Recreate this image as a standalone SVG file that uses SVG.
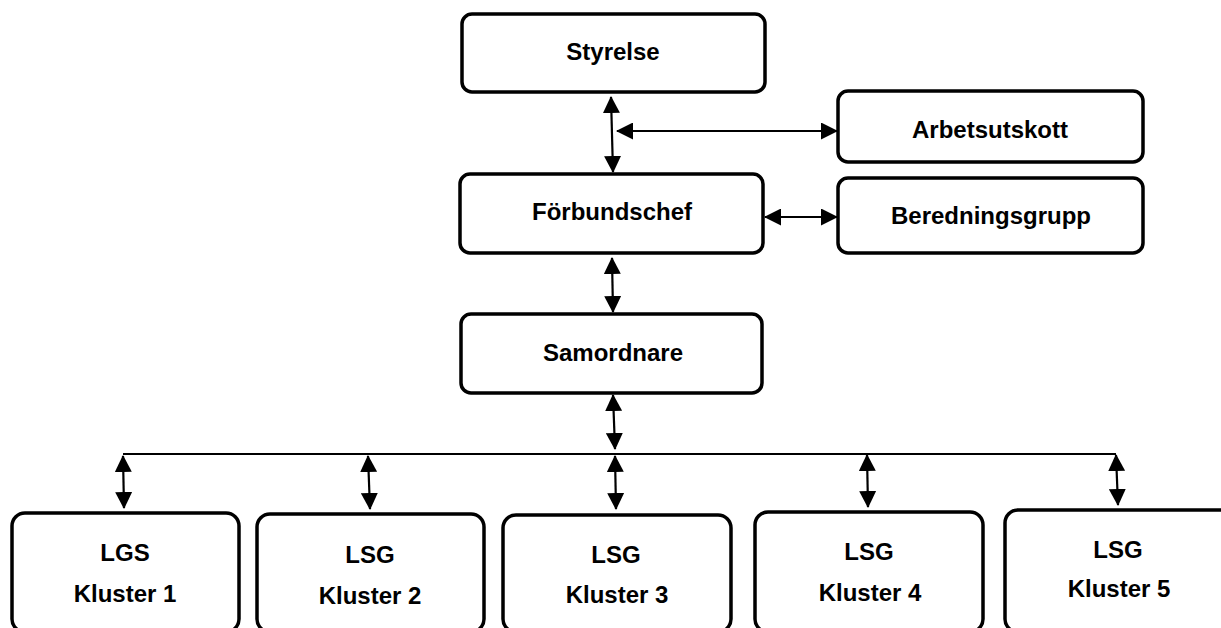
<svg xmlns="http://www.w3.org/2000/svg" width="1221" height="628" viewBox="0 0 1221 628">
<style>
.box{fill:#fff;stroke:#000;stroke-width:3.5}
.lbl{font-family:"Liberation Sans",Arial,sans-serif;font-weight:bold;font-size:24px;fill:#000;text-anchor:middle}
.arr{stroke:#000;stroke-width:2.2;fill:none;marker-start:url(#ah);marker-end:url(#ah)}
.bus{stroke:#000;stroke-width:2;fill:none}
</style>
<defs>
<marker id="ah" markerUnits="userSpaceOnUse" viewBox="0 0 17 17" markerWidth="17" markerHeight="17" refX="16" refY="8.5" orient="auto-start-reverse">
<path d="M0,0 L17,8.5 L0,17 z" fill="#000"/>
</marker>
</defs>
<rect width="1221" height="628" fill="#fff"/>
<g id="connectors">
<line class="arr" x1="611" y1="97" x2="613" y2="172"/>
<line class="arr" x1="617" y1="131" x2="837" y2="131"/>
<line class="arr" x1="765" y1="217" x2="837" y2="217"/>
<line class="arr" x1="612" y1="258" x2="613" y2="312"/>
<line class="arr" x1="613" y1="395" x2="615" y2="449"/>
<line class="bus" x1="123" y1="454" x2="1116" y2="454"/>
<line class="arr" x1="123" y1="456" x2="124" y2="508"/>
<line class="arr" x1="368" y1="456" x2="370" y2="509"/>
<line class="arr" x1="615" y1="456" x2="616" y2="509"/>
<line class="arr" x1="867" y1="455" x2="868" y2="507"/>
<line class="arr" x1="1116" y1="455" x2="1118" y2="505"/>
</g>
<g id="styrelse"><rect class="box" x="462" y="14" width="303" height="78" rx="10"/><text class="lbl" x="613" y="60">Styrelse</text></g>
<g id="arbetsutskott"><rect class="box" x="838" y="91" width="305" height="71" rx="10"/><text class="lbl" x="990" y="138">Arbetsutskott</text></g>
<g id="forbundschef"><rect class="box" x="460" y="174" width="303" height="79" rx="10"/><text class="lbl" x="612" y="220">Förbundschef</text></g>
<g id="beredningsgrupp"><rect class="box" x="838" y="178" width="305" height="75" rx="10"/><text class="lbl" x="991" y="224">Beredningsgrupp</text></g>
<g id="samordnare"><rect class="box" x="461" y="314" width="301" height="79" rx="10"/><text class="lbl" x="613" y="361">Samordnare</text></g>
<g id="kluster1"><rect class="box" x="12" y="513" width="227" height="119" rx="13"/><text class="lbl" x="125" y="561">LGS</text><text class="lbl" x="125" y="602">Kluster 1</text></g>
<g id="kluster2"><rect class="box" x="257" y="514" width="227" height="118" rx="13"/><text class="lbl" x="370" y="563">LSG</text><text class="lbl" x="370" y="604">Kluster 2</text></g>
<g id="kluster3"><rect class="box" x="503" y="515" width="228" height="117" rx="13"/><text class="lbl" x="616" y="563">LSG</text><text class="lbl" x="617" y="603">Kluster 3</text></g>
<g id="kluster4"><rect class="box" x="755" y="512" width="228" height="120" rx="13"/><text class="lbl" x="869" y="560">LSG</text><text class="lbl" x="870" y="601">Kluster 4</text></g>
<g id="kluster5"><rect class="box" x="1005" y="510" width="228" height="122" rx="13"/><text class="lbl" x="1118" y="558">LSG</text><text class="lbl" x="1119" y="597">Kluster 5</text></g>
</svg>
